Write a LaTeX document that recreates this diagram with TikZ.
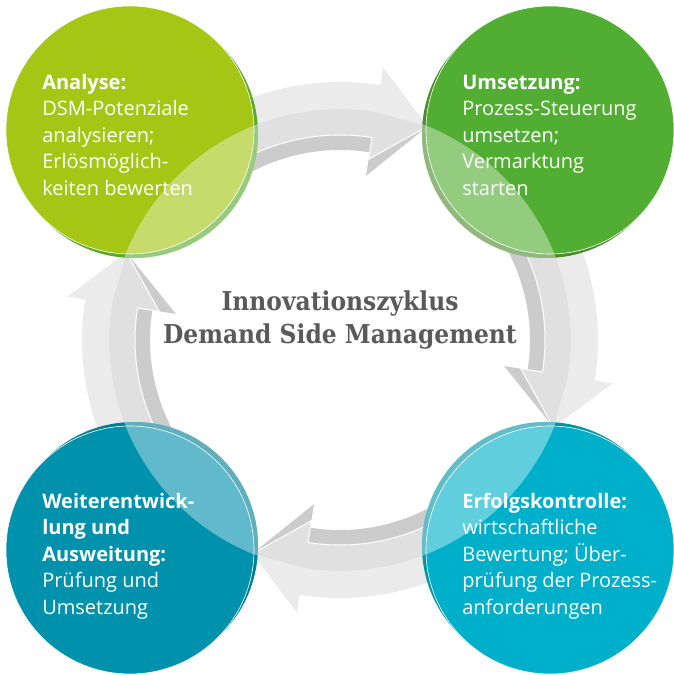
\documentclass[tikz,border=0pt]{standalone}
\usepackage{fontspec}
\setmainfont{Open Sans}
\newfontfamily\titlefont{DejaVu Serif Condensed}
\usetikzlibrary{positioning}

\definecolor{analyseface}{HTML}{A5C614}
\definecolor{analyserim}{HTML}{5AAB2B}
\definecolor{umsetzface}{HTML}{52AE32}
\definecolor{umsetzrim}{HTML}{4C8C2C}
\definecolor{erfolgface}{HTML}{00B0CB}
\definecolor{erfolgrim}{HTML}{0096A6}
\definecolor{weiterface}{HTML}{0091AD}
\definecolor{weiterrim}{HTML}{007E94}
\definecolor{arrowlight}{HTML}{EBEBEB}
\definecolor{arrowmid}{HTML}{E0E0E0}
\definecolor{arrowdark}{HTML}{CCCCCC}
\definecolor{titlegray}{HTML}{5A5A5A}

\begin{document}
\begin{tikzpicture}[x=1pt, y=1pt, semithick]
\tikzstyle{disc}=[circle, minimum size=248pt, inner sep=0pt, draw=white, line width=0.6pt]
\tikzstyle{stagetext}=[anchor=base west, align=left, inner sep=0pt, text=white, font=\fontsize{20}{26.5}\selectfont]

\useasboundingbox (-340,-335) rectangle (333,340);

% ring of arrows
\foreach \r in {0,-90,-180,-270}{
\begin{scope}[rotate=\r]
	\fill[arrowdark] (125:190) arc[start angle=125, end angle=81, radius=190] -- (81:166) -- (67.7:231)
		-- (81:183) -- (81:205) arc[start angle=81, end angle=125, radius=205] -- cycle;
	\fill[arrowlight] (125:258) arc[start angle=125, end angle=81, radius=258] -- (81:276) -- (67.7:231)
		-- (81:231) arc[start angle=81, end angle=125, radius=231] -- cycle;
	\fill[arrowmid] (125:231) arc[start angle=125, end angle=81, radius=231] -- (67.7:231)
		-- (81:183) -- (81:205) arc[start angle=81, end angle=125, radius=205] -- cycle;
	\draw[white, line width=1pt] (125:205) arc[start angle=125, end angle=81, radius=205] -- (81:183) -- (67.7:231);
\end{scope}
}

% stages
\fill[analyserim] (-206,206) circle (124);
\node[disc, fill=analyseface]	(0) at (-210,210) {};
\fill[umsetzrim] (206,206) circle (124);
\node[disc, fill=umsetzface]	(1) at (210,210) {};
\fill[erfolgrim] (206,-206) circle (124);
\node[disc, fill=erfolgface]	(2) at (210,-210) {};
\fill[weiterrim] (-206,-206) circle (124);
\node[disc, fill=weiterface]	(3) at (-210,-210) {};

% light veil inside the ring
\begin{scope}
	\clip (-210,210) circle (125) (-206,206) circle (124)
		(210,210) circle (125) (206,206) circle (124)
		(210,-210) circle (125) (206,-206) circle (124)
		(-210,-210) circle (125) (-206,-206) circle (124);
	\fill[white, opacity=0.38] (0,0) circle (231);
\end{scope}

% texts, anchored at the last line
\node[stagetext] (t0) at ([shift={(-88,-65)}]0.center) {\textbf{Analyse:}\\DSM-Potenziale\\analysieren;\\Erlösmöglich-\\keiten bewerten};
\node[stagetext] (t1) at ([shift={(-88,-65)}]1.center) {\textbf{Umsetzung:}\\Prozess-Steuerung\\umsetzen;\\Vermarktung\\starten};
\node[stagetext] (t2) at ([shift={(-88,-64)}]2.center) {\textbf{Erfolgskontrolle:}\\wirtschaftliche\\Bewertung; Über-\\prüfung der Prozess-\\anforderungen};
\node[stagetext] (t3) at ([shift={(-88,-64)}]3.center) {\textbf{Weiterentwick-}\\\textbf{lung und}\\\textbf{Ausweitung:}\\Prüfung und\\Umsetzung};

\node[anchor=base, align=center, inner sep=0pt, text=titlegray, font=\titlefont\bfseries\fontsize{26}{33}\selectfont] (title) at (0,-3)
	{Innovationszyklus\\Demand Side Management};

\end{tikzpicture}
\end{document}
